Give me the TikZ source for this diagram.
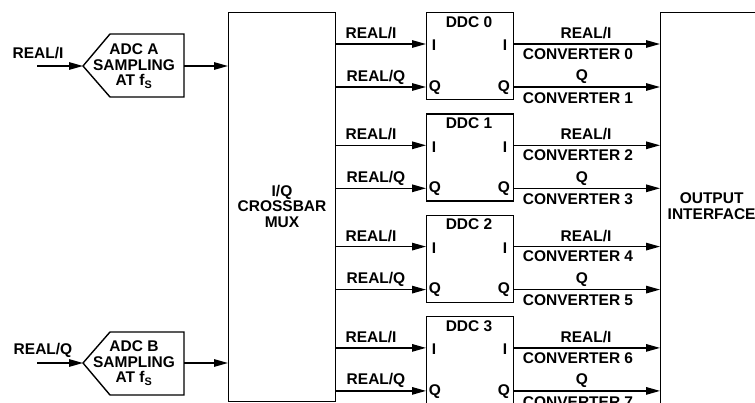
\documentclass[tikz,border=0pt]{standalone}
\usepackage{fontspec}
\setmainfont{Liberation Sans}
\usetikzlibrary{arrows.meta}
\begin{document}
\begin{tikzpicture}[x=1pt,y=-1pt, line width=1.4pt,
  lbl/.style={font=\fontsize{15.5}{15.5}\selectfont\bfseries, inner sep=0pt, align=center},
  arr/.style={-{Triangle[length=14pt,width=7.5pt]}},
  box/.style={draw, inner sep=0pt, line width=1.4pt}]
\useasboundingbox (0,0) rectangle (755,403);
\clip (0,0) rectangle (755,403);

% crossbar
\node[box, minimum width=107pt, minimum height=389pt, anchor=north west] (xbar) at (228,12) {};
\node[lbl] (xbartxt) at (282,206) {I/Q\\CROSSBAR\\MUX};

% output interface
\node[box, minimum width=130pt, minimum height=420pt, anchor=north west] (outif) at (660,12) {};
\node[lbl, anchor=west] (outtxt) at (667,206) {OUTPUT\\INTERFACE};

% ADC A
\coordinate (adcAtip) at (83,66);
\coordinate (adcAout) at (184,66);
\draw (adcAtip) -- (110,34) -- (184,34) -- (184,97) -- (110,97) -- cycle;
\node[lbl] (adcA) at (134,66) {ADC A\\SAMPLING\\AT f\textsubscript{S}};
\coordinate (inA) at (37,66);
\node[lbl] (inAlbl) at (38,53) {REAL/I};
\draw[arr] (inA) -- (adcAtip);
\draw[arr] (adcAout) -- (xbar.west |- adcAout);

% ADC B
\coordinate (adcBtip) at (83,363);
\coordinate (adcBout) at (184,363);
\draw (adcBtip) -- (110,332) -- (184,332) -- (184,395) -- (110,395) -- cycle;
\node[lbl] (adcB) at (134,363) {ADC B\\SAMPLING\\AT f\textsubscript{S}};
\coordinate (inB) at (37,363);
\node[lbl] (inBlbl) at (43,350) {REAL/Q};
\draw[arr] (inB) -- (adcBtip);
\draw[arr] (adcBout) -- (xbar.west |- adcBout);

% DDCs
\foreach \i in {0,1,2,3}{
  \pgfmathsetmacro{\t}{12+101.3*\i}
  \pgfmathtruncatemacro{\ca}{2*\i}
  \pgfmathtruncatemacro{\cb}{2*\i+1}
  \node[box, minimum width=87pt, minimum height=87pt, anchor=north west] (ddc\i) at (426,\t) {};
  \node[lbl] (ddct\i) at (469,\t+10) {DDC \i};
  \coordinate (ii\i) at (426,\t+32);
  \coordinate (qi\i) at (426,\t+75);
  \coordinate (io\i) at (513,\t+32);
  \coordinate (qo\i) at (513,\t+75);
  \node[lbl] (pil\i) at (434,\t+33.5) {I};
  \node[lbl] (pir\i) at (505,\t+33.5) {I};
  \node[lbl] (pql\i) at (435,\t+75.5) {Q};
  \node[lbl] (pqr\i) at (504,\t+75.5) {Q};
  \draw[arr] (xbar.east |- ii\i) -- (ii\i);
  \draw[arr] (xbar.east |- qi\i) -- (qi\i);
  \node[lbl] (lri\i) at (371,\t+21) {REAL/I};
  \node[lbl] (lrq\i) at (376,\t+65) {REAL/Q};
  \draw[arr] (io\i) -- (io\i -| outif.west);
  \draw[arr] (qo\i) -- (qo\i -| outif.west);
  \node[lbl] (ori\i) at (586,\t+21) {REAL/I};
  \node[lbl] (oca\i) at (578,\t+42) {CONVERTER \ca};
  \node[lbl] (oq\i) at (582,\t+65) {Q};
  \node[lbl] (ocb\i) at (578,\t+86) {CONVERTER \cb};
}
\end{tikzpicture}
\end{document}
